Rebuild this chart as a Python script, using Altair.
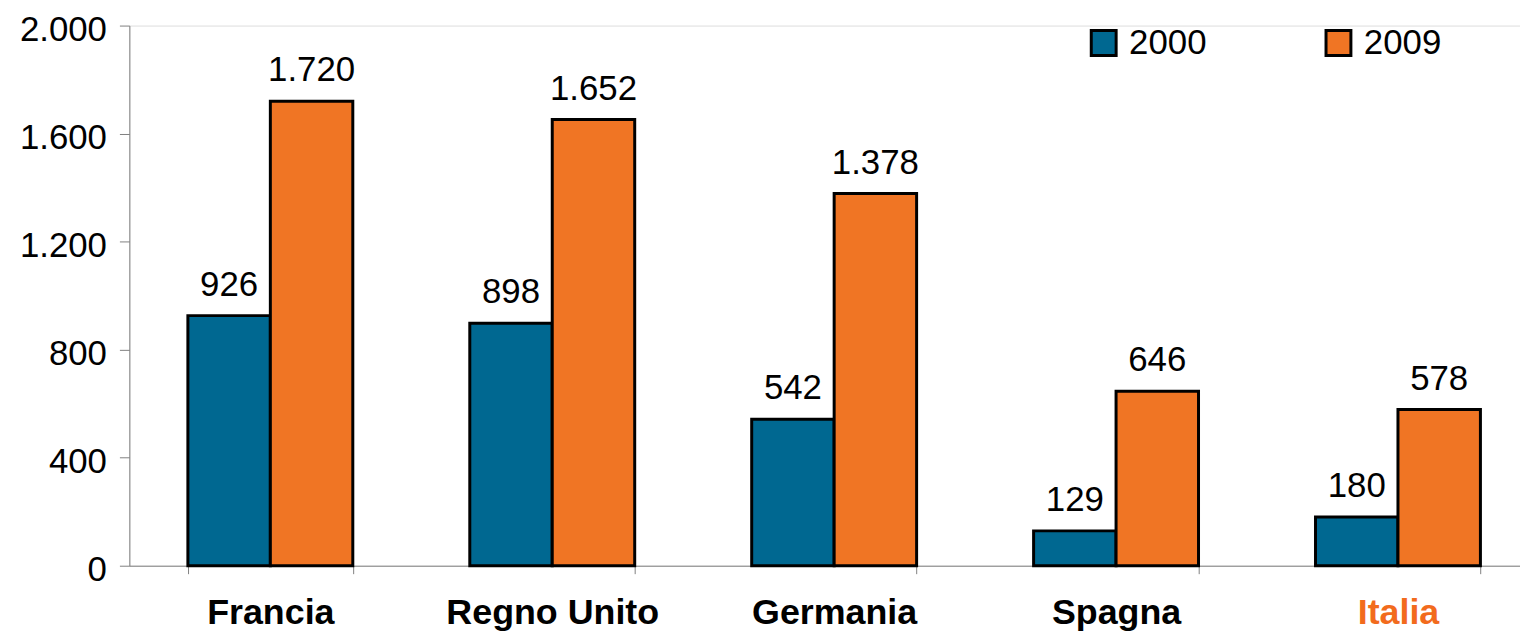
import altair as alt
import pandas as pd

categories = ["Francia", "Regno Unito", "Germania", "Spagna", "Italia"]
years = ["2000", "2009"]
values_2000 = [926, 898, 542, 129, 180]
values_2009 = [1720, 1652, 1378, 646, 578]
y_ticks = [0, 400, 800, 1200, 1600, 2000]

rows = []
for c, a, b in zip(categories, values_2000, values_2009):
    rows.append({"paese": c, "anno": years[0], "valore": a})
    rows.append({"paese": c, "anno": years[1], "valore": b})
df = pd.DataFrame(rows)

FONT = "Liberation Sans"
BLUE = "#006891"
ORANGE = "#F07524"

x = alt.X(
    "paese:N",
    sort=categories,
    scale=alt.Scale(paddingInner=0.415, paddingOuter=0.174, align=0.5966, round=False),
    axis=alt.Axis(
        title=None,
        tickBand="extent",
        tickSize=8,
        tickColor="#808080",
        domainColor="#808080",
        labelFont=FONT,
        labelFontSize=36,
        labelFontWeight="bold",
        labelPadding=22,
        labelAngle=0,
        labelLimit=0,
        labelColor={"expr": "datum.value == 'Italia' ? '#F26B1D' : '#000000'"},
    ),
)
y = alt.Y(
    "valore:Q",
    scale=alt.Scale(domain=[0, 2000], nice=False),
    axis=alt.Axis(
        title=None,
        values=y_ticks,
        grid=False,
        tickSize=10,
        tickColor="#808080",
        domainColor="#808080",
        labelFont=FONT,
        labelFontSize=35,
        labelPadding=13,
        labelBaseline="alphabetic",
        labelOffset=15,
        labelColor="#000000",
        labelExpr="replace(format(datum.value, ','), ',', '.')",
    ),
)
xo = alt.XOffset("anno:N", sort=years, scale=alt.Scale(paddingInner=0, paddingOuter=0))

bars = alt.Chart(df).mark_bar(stroke="black", strokeWidth=3).encode(
    x=x,
    y=y,
    xOffset=xo,
    color=alt.Color(
        "anno:N",
        sort=years,
        scale=alt.Scale(domain=years, range=[BLUE, ORANGE]),
        legend=alt.Legend(
            title=None,
            orient="none",
            legendX=962,
            legendY=0,
            direction="horizontal",
            padding=0,
            symbolType="square",
            symbolSize=625,
            symbolStrokeColor="black",
            symbolStrokeWidth=3,
            symbolOpacity=1,
            labelFont=FONT,
            labelFontSize=35,
            labelColor="#000000",
            labelOffset=8,
            columnPadding=114,
        ),
    ),
)

labels = alt.Chart(df).transform_calculate(
    lab="replace(format(datum.valore, ','), ',', '.')"
).mark_text(
    font=FONT, fontSize=35, baseline="alphabetic", dy=-20, color="#000000"
).encode(
    x=alt.X("paese:N", sort=categories),
    y=alt.Y("valore:Q"),
    xOffset=xo,
    text="lab:N",
)

chart = (
    alt.layer(bars, labels)
    .properties(
        width=1398,
        height=543,
        autosize=alt.AutoSizeParams(type="none"),
        padding={"left": 122, "top": 16, "right": 0, "bottom": 71},
    )
    .configure_view(stroke=None)
    .configure(background="white")
)

chart.save("out.html", embed_options={"renderer": "svg", "actions": False})
